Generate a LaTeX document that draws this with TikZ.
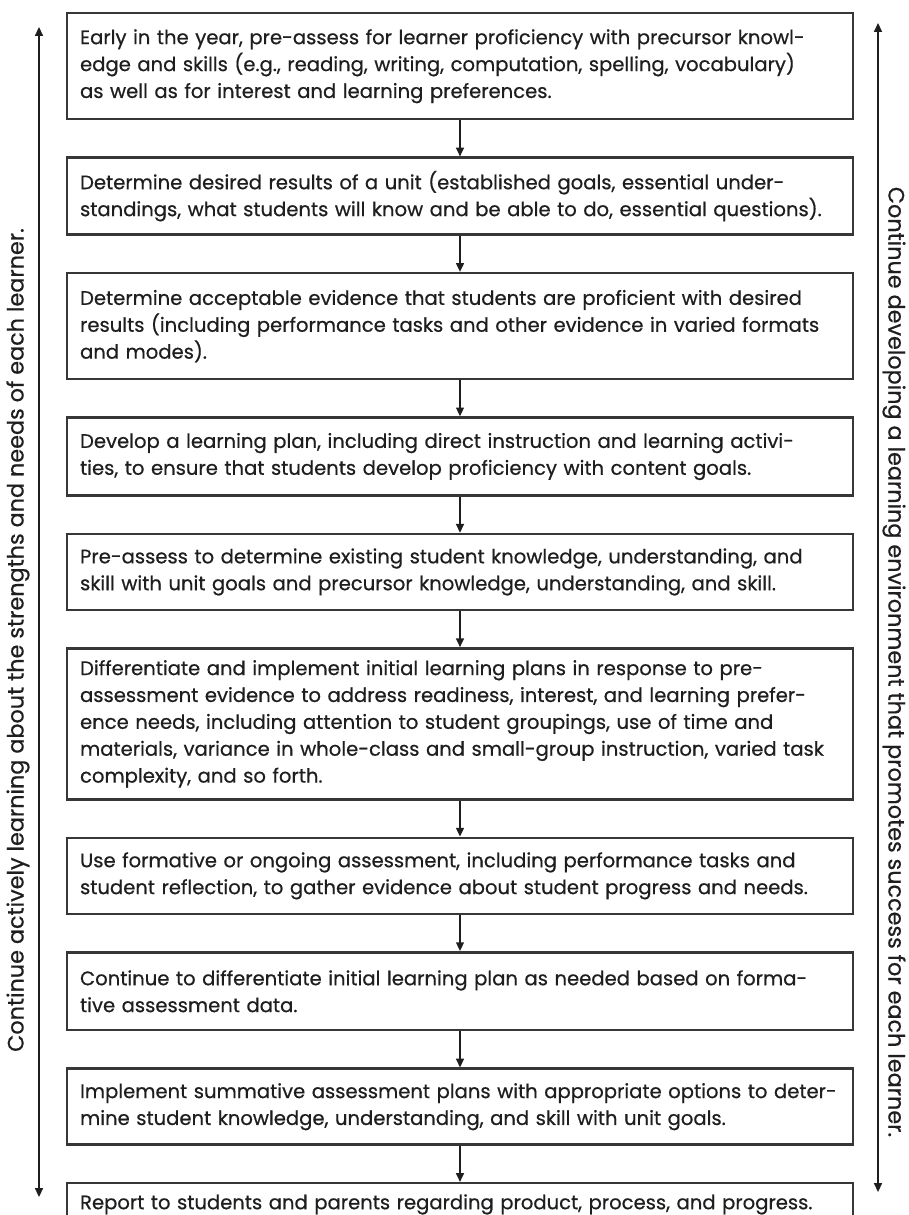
\documentclass[tikz,border=0pt]{standalone}
\usepackage{fontspec}
\setmainfont{Poppins}
\newfontfamily\stagefont{Poppins}[FakeBold=0.6]
\usepackage{tikz}
\usetikzlibrary{positioning,arrows.meta}
\definecolor{ink}{RGB}{30,30,30}
\definecolor{frame}{RGB}{55,55,55}

\begin{document}
\begin{tikzpicture}[x=0.02cm, y=-0.02cm,
		stage/.style={draw=frame, line width=1.4pt, align=left, text=ink,
			text width=15.2cm, inner xsep=0.26cm, inner ysep=0pt,
			font=\stagefont\fontsize{11.15}{15.3}\selectfont},
		arr/.style={-{Triangle[length=5pt, width=4.5pt]}, line width=0.9pt, ink},
		sidearr/.style={{Triangle[length=5pt, width=4.5pt]}-{Triangle[length=5pt, width=4.5pt]}, line width=0.9pt, ink},
		side/.style={text=ink, font=\stagefont\fontsize{12.7}{14}\selectfont, inner sep=0pt},
		node distance=0.72cm]
	\useasboundingbox (0,0) rectangle (909,1215);
	\node[stage, anchor=north, minimum height=2.12cm] (pre) at (460,12)
		{Early in the year, pre-assess for learner proficiency with precursor knowl-\\
		 edge and skills (e.g., reading, writing, computation, spelling, vocabulary)\\
		 as well as for interest and learning preferences.};
	\node[stage, minimum height=1.54cm, below=of pre] (des)
		{Determine desired results of a unit (established goals, essential under-\\
		 standings, what students will know and be able to do, essential questions).};
	\node[stage, minimum height=2.12cm, below=of des] (evid)
		{Determine acceptable evidence that students are proficient with desired\\
		 results (including performance tasks and other evidence in varied formats\\
		 and modes).};
	\node[stage, minimum height=1.56cm, below=of evid] (plan)
		{Develop a learning plan, including direct instruction and learning activi-\\
		 ties, to ensure that students develop proficiency with content goals.};
	\node[stage, minimum height=1.52cm, below=of plan] (preunit)
		{Pre-assess to determine existing student knowledge, understanding, and\\
		 skill with unit goals and precursor knowledge, understanding, and skill.};
	\node[stage, minimum height=3.02cm, below=of preunit] (diff)
		{Differentiate and implement initial learning plans in response to pre-\\
		 assessment evidence to address readiness, interest, and learning prefer-\\
		 ence needs, including attention to student groupings, use of time and\\
		 materials, variance in whole-class and small-group instruction, varied task\\
		 complexity, and so forth.};
	\node[stage, minimum height=1.52cm, below=of diff] (form)
		{Use formative or ongoing assessment, including performance tasks and\\
		 student reflection, to gather evidence about student progress and needs.};
	\node[stage, minimum height=1.56cm, below=of form] (cont)
		{Continue to differentiate initial learning plan as needed based on forma-\\
		 tive assessment data.};
	\node[stage, minimum height=1.52cm, below=of cont] (summ)
		{Implement summative assessment plans with appropriate options to deter-\\
		 mine student knowledge, understanding, and skill with unit goals.};
	\node[stage, minimum height=0.85cm, below=of summ] (rep)
		{Report to students and parents regarding product, process, and progress.};
	% flow
	\draw[arr] (pre) -- (des);
	\draw[arr] (des) -- (evid);
	\draw[arr] (evid) -- (plan);
	\draw[arr] (plan) -- (preunit);
	\draw[arr] (preunit) -- (diff);
	\draw[arr] (diff) -- (form);
	\draw[arr] (form) -- (cont);
	\draw[arr] (cont) -- (summ);
	\draw[arr] (summ) -- (rep);
	% side arrows
	\coordinate (lt) at (39,27);
	\coordinate (lb) at (39,1197);
	\coordinate (rt) at (878,23);
	\coordinate (rb) at (878,1192);
	\draw[sidearr] (lb) -- (lt);
	\draw[sidearr] (rb) -- (rt);
	\node[side, rotate=90] (learner) at (18,640)
		{Continue actively learning about the strengths and needs of each learner.};
	\node[side, rotate=-90] (climate) at (894,662)
		{Continue developing a learning environment that promotes success for each learner.};
\end{tikzpicture}
\end{document}
